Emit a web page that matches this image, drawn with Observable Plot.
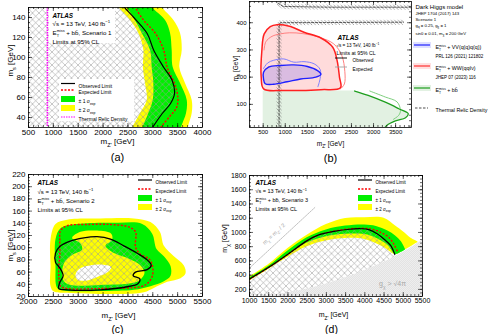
<!DOCTYPE html>
<html><head><meta charset="utf-8">
<script src="https://cdn.jsdelivr.net/npm/d3@7"></script>
<script src="https://cdn.jsdelivr.net/npm/@observablehq/plot@0.6"></script>
<style>
body{margin:0;background:#fff;}
#fig{position:relative;width:500px;height:334px;overflow:hidden;background:#fff;}
#fig svg{position:absolute;left:0;top:0;}
</style></head><body><div id="fig"></div>
<script>
// ---------------- DATA ----------------
// Panel (a): bands sampled at common m_s levels
const aYLevels = [155,150,137,124,107,90,74,57,44,32,27];
const aYellowL = [2250,2317,2552,2719,2820,2810,2854,2887,2753,2619,2560];
const aGreenL  = [2440,2485,2650,2787,2954,2988,3021,3008,2920,2820,2780];
const aGreenR  = [2940,2988,3256,3357,3390,3410,3558,3693,3679,3592,3560];
const aYellowR = [3150,3190,3424,3558,3592,3544,3658,3793,3793,3725,3700];
const aObs = [[2380,155],[2417,151],[2618,140],[2887,124],[3021,107],[3222,90],[3390,77],[3437,64],[3357,54],[3190,44],[3021,32],[2960,27]];
const aExp = [[2620,155],[2652,150],[2820,137],[3055,124],[3222,107],[3290,90],[3437,74],[3505,60],[3478,50],[3323,40],[3190,32],[3120,27]];
const aRelicX = [880];
const aXTicks = [500,1000,1500,2000,2500,3000,3500,4000];
const aYTicks = [40,60,80,100,120,140];

// Panel (b)
const bRedObs = [[510,157],[455,200],[470,298],[523,359],[661,386],[814,393],[1119,386],[1425,365],[1808,344],[2076,310],[2175,261],[2228,200],[2251,161],[1808,154],[966,151]];
const bRedExp = [[520,300],[560,330],[700,350],[890,359],[1100,363],[1400,360],[1800,345],[2100,322],[2280,280],[2350,220],[2340,175],[2260,158]];
const bBlueObs = [[508,218],[622,237],[890,243],[1195,245],[1501,239],[1731,224],[1808,210],[1693,200],[1348,193],[1042,183],[737,174],[546,176],[508,193]];
const bBlueExp = [[508,232],[600,252],[737,262],[966,267],[1195,255],[1425,257],[1654,249],[1790,228],[1790,195],[1740,165]];
const bGreenObs = [[2572,149],[2879,133],[3266,108],[3572,84],[3786,66],[3725,51],[3495,39],[3304,23],[3251,13]];
const bGreenExp = [[2916,149],[3266,127],[3533,109],[3610,78],[3572,60],[3450,45]];
const bRelic1 = [[860,15],[860,385],[885,400],[3680,402]];
const bRelic2 = [[830,472],[950,460],[2000,457],[3860,457]];
const bXTicks = [500,1000,1500,2000,2500,3000,3500];
const bYTicks = [100,200,300,400];

// Panel (c)
const cYel = [[2443,70],[2443,114],[2543,139],[2778,146],[3449,148],[4120,148],[4454,142],[4642,126],[4723,103],[4924,86],[5125,71],[5159,58],[5058,50],[4790,44],[4521,34],[4320,27],[3784,24],[2778,26],[2510,28],[2443,37]];
const cGrn = [[2543,70],[2543,114],[2644,132],[2979,139],[3784,141],[4287,139],[4488,123],[4575,98],[4723,86],[4857,70],[4857,54],[4723,45],[4454,37],[4119,31],[3449,29],[2711,30],[2577,34]];
const cInner = [[2878,116],[3046,126],[3381,128],[3663,123],[3683,113],[3549,103],[3683,93],[4018,82],[4253,71],[4334,59],[4253,48],[4086,42],[3449,39],[2845,39],[2711,45],[2677,60],[2724,76],[2878,88],[3080,97],[3033,108]];
const cHole = [[2946,56],[3033,66],[3234,71],[3516,72],[3663,68],[3596,60],[3381,52],[3147,46],[2979,48]];
const cObs = [[2543,91],[2630,102],[2811,110],[3113,116],[3381,118],[3650,114],[3918,103],[4186,91],[4387,80],[4468,71],[4387,64],[4153,60],[4106,54],[4240,49],[4200,41],[3985,36],[3449,31],[2778,31],[2610,33],[2630,43],[2697,54],[2630,67],[2543,76]];
const cExp = [[2630,87],[2630,112],[2644,128],[2778,136],[3180,138],[3650,138],[4019,134],[4153,126],[4153,101],[4253,89],[4421,82],[4495,70],[4488,53],[4387,41],[4253,36],[3449,33],[2778,33],[2644,37],[2610,53],[2610,70]];
const cXTicks = [2000,2500,3000,3500,4000,4500,5000,5500];
const cYTicks = [20,40,60,80,100,120,140,160,180,200,220];

// Panel (d)
const dYelX  = [1000,1500,2000,2500,3000,3500,4000,4500,4800,5000,5200,5380];
const dYelLo = [315,480,650,800,880,915,900,790,690,740,800,860];
const dYelHi = [375,550,775,960,1110,1195,1205,1200,1090,1010,920,870];
const dGrnX  = [1000,1500,2000,2500,3000,3500,4000,4300,4600,4800,4950,5060];
const dGrnLo = [330,495,680,850,940,975,970,920,820,690,720,755];
const dGrnHi = [360,525,740,925,1035,1090,1105,1085,1020,950,870,760];
const dObs = [[1000,345],[1500,510],[2000,695],[2500,885],[2800,965],[3200,1015],[3600,1045],[3900,1052],[4100,1040],[4320,981],[4540,887],[4670,817],[4780,690]];
const dExp = [[1000,345],[1500,510],[2000,695],[2500,885],[2800,965],[3200,1018],[3600,1050],[3900,1058],[4150,1050],[4400,1004],[4620,934],[4750,840],[4850,730]];
const dGray = [[1300,100],[2000,150],[2500,205],[3000,275],[3500,365],[4000,465],[4500,580],[5000,720],[5500,890]];
const dHalf = [[1000,500],[2700,1350]];
const dXTicks = [1000,1500,2000,2500,3000,3500,4000,4500,5000,5500];
const dYTicks = [200,400,600,800,1000,1200,1400,1600,1800];

// ---------------- HELPERS ----------------
const FONT = "'Liberation Sans', Arial, Helvetica, sans-serif";
const fig = document.getElementById("fig");
const defs = d3.select(fig).append("svg").attr("width", 0).attr("height", 0).append("defs");
const xh = defs.append("pattern").attr("id", "xhatch").attr("patternUnits", "userSpaceOnUse").attr("width", 6.5).attr("height", 6.5);
xh.append("path").attr("d", "M0,0L6.5,6.5M6.5,0L0,6.5").attr("stroke", "#9a9a9a").attr("stroke-width", 0.55).attr("fill", "none");
const dh = defs.append("pattern").attr("id", "dhatch").attr("patternUnits", "userSpaceOnUse").attr("width", 3.5).attr("height", 3.5);
dh.append("path").attr("d", "M0,0L3.5,3.5M-1,2.5L1,4.5M2.5,-1L4.5,1").attr("stroke", "#555").attr("stroke-width", 0.5).attr("fill", "none");
const gh = defs.append("pattern").attr("id", "ghatch").attr("patternUnits", "userSpaceOnUse").attr("width", 2).attr("height", 2);
gh.append("path").attr("d", "M0,2L2,0M-1,1L1,-1M1,3L3,1").attr("stroke", "#d2d2d2").attr("stroke-width", 0.4).attr("fill", "none");

const X = d => d[0], Y = d => d[1];

function panel(P, cfg) {
  const fw = P.fr - P.fl, fh = P.fb - P.ft;
  const T = (s, ax, ay, o = {}) => Plot.text([s], {text: d => d, frameAnchor: "top-left", dx: ax - P.fl, dy: ay - P.ft, textAnchor: "start", fill: "black", fontSize: 6, ...o});
  const tk = {stroke: "black", strokeWidth: 0.6};
  const ticks = [
    Plot.tickX(cfg.xMinor, {x: d => d, insetTop: fh - 2, ...tk}),
    Plot.tickX(cfg.xMinor, {x: d => d, insetBottom: fh - 2, ...tk}),
    Plot.tickX(cfg.xTicks, {x: d => d, insetTop: fh - 4, ...tk}),
    Plot.tickX(cfg.xTicks, {x: d => d, insetBottom: fh - 4, ...tk}),
    Plot.tickY(cfg.yMinor, {y: d => d, insetRight: fw - 2, ...tk}),
    Plot.tickY(cfg.yMinor, {y: d => d, insetLeft: fw - 2, ...tk}),
    Plot.tickY(cfg.yTicks, {y: d => d, insetRight: fw - 4, ...tk}),
    Plot.tickY(cfg.yTicks, {y: d => d, insetLeft: fw - 4, ...tk})
  ];
  const svg = Plot.plot({
    width: 500, height: 334,
    marginLeft: P.fl, marginRight: 500 - P.fr, marginTop: P.ft, marginBottom: 334 - P.fb,
    x: {domain: cfg.xDomain}, y: {domain: cfg.yDomain},
    style: {fontFamily: FONT, background: "transparent", position: "absolute", left: "0px", top: "0px", overflow: "visible"},
    marks: [
      ...cfg.marks(T),
      Plot.frame({stroke: "black", strokeWidth: 0.8}),
      ...ticks,
      Plot.axisX({ticks: cfg.xTicks, anchor: "bottom", tickSize: 0, tickPadding: 2, fontSize: cfg.tickFont, label: null, tickFormat: d => String(d)}),
      Plot.axisY({ticks: cfg.yTicks, anchor: "left", tickSize: 0, tickPadding: 3, fontSize: cfg.tickFont, label: null, tickFormat: d => String(d)}),
      ...cfg.text(T)
    ]
  });
  fig.appendChild(svg);
  return svg;
}

// pixel-space legend swatches / boxes
function deco(items) {
  return () => {
    const g = d3.create("svg:g");
    for (const it of items) {
      if (it.box) g.append("rect").attr("x", it.box[0]).attr("y", it.box[1]).attr("width", it.box[2]).attr("height", it.box[3]).attr("fill", it.fill).attr("stroke", it.stroke || "none").attr("stroke-width", 0.5);
      if (it.line) g.append("line").attr("x1", it.line[0]).attr("y1", it.line[1]).attr("x2", it.line[2]).attr("y2", it.line[1]).attr("stroke", it.stroke).attr("stroke-width", it.width || 1.2).attr("stroke-dasharray", it.dash || null);
    }
    return g.node();
  };
}

function rich(svg) {
  d3.select(svg).selectAll("text").each(function() {
    const s = this.textContent;
    if (!/ETMISS|[_^]\{/.test(s)) return;
    const fs = parseFloat(getComputedStyle(this).fontSize) || 6;
    const el = d3.select(this); el.text(null);
    let cur = 0;
    const add = (t, off, scale, dx) => {
      const ts = el.append("tspan").text(t);
      if (off !== cur) ts.attr("dy", off - cur);
      cur = off;
      if (scale !== 1) ts.attr("font-size", fs * scale);
      if (dx) ts.attr("dx", dx);
    };
    const re = /ETMISS|_\{([^}]*)\}|\^\{([^}]*)\}/g;
    let last = 0, m;
    while ((m = re.exec(s))) {
      if (m.index > last) add(s.slice(last, m.index), 0, 1);
      if (m[0] === "ETMISS") { add("E", 0, 1); add("T", fs * 0.3, 0.62); add("miss", -fs * 0.4, 0.62, -fs * 0.62 * 0.6); }
      else if (m[1] !== undefined) add(m[1], fs * 0.3, 0.7);
      else add(m[2], -fs * 0.4, 0.7);
      last = re.lastIndex;
    }
    if (last < s.length) add(s.slice(last), 0, 1);
  });
}

const YEL = "#ffff00", GRN = "#00f000", RED = "#ff0000";

// ---------------- PANEL A ----------------
const aBand = aYLevels.map((y, i) => ({y, yl: aYellowL[i], gl: aGreenL[i], gr: aGreenR[i], yr: aYellowR[i]}));
const svgA = panel({fl: 28, fr: 202, ft: 7, fb: 127}, {
  xDomain: [500, 4000], yDomain: [30, 150], tickFont: 8,
  xTicks: aXTicks, yTicks: aYTicks, xMinor: d3.range(500, 4001, 100), yMinor: d3.range(30, 151, 5),
  marks: T => [
    Plot.areaX(aBand, {y: "y", x1: "yl", x2: "yr", fill: YEL, curve: "catmull-rom", clip: true}),
    Plot.areaX(aBand, {y: "y", x1: "gl", x2: "gr", fill: GRN, curve: "catmull-rom", clip: true}),
    Plot.areaX(aObs, {y: Y, x1: 500, x2: X, fill: "url(#xhatch)", curve: "catmull-rom", clip: true}),
    deco([{box: [49, 7, 66, 36], fill: "white"}, {box: [59, 79, 75, 42], fill: "white"}]),
    Plot.ruleX(aRelicX, {stroke: "#ff00ff", strokeWidth: 1.6, strokeDasharray: "1.5,1"}),
    Plot.line(aExp, {x: X, y: Y, stroke: RED, strokeWidth: 1.4, strokeDasharray: "2,1.6", strokeLinecap: "butt", curve: "catmull-rom", clip: true}),
    Plot.line(aObs, {x: X, y: Y, stroke: "black", strokeWidth: 1.2, curve: "catmull-rom", clip: true}),
    deco([
      {line: [61, 83.5, 75], stroke: "black"},
      {line: [61, 90, 75], stroke: RED, dash: "2,1.5", width: 1.4},
      {box: [61, 96, 14, 6], fill: GRN},
      {box: [61, 105, 14, 6], fill: YEL},
      {line: [61, 117, 75], stroke: "#ff00ff", dash: "1.5,1", width: 1.2}
    ])
  ],
  text: T => [
    T("ATLAS", 52, 13, {fontWeight: "bold", fontStyle: "italic", fontSize: 6.3}),
    T("√s = 13 TeV, 140 fb^{−1}", 52, 21, {fontSize: 6.2}),
    T("ETMISS + bb̄, Scenario 1", 52, 30, {fontSize: 6.2}),
    T("Limits at 95% CL", 52, 39, {fontSize: 6.2}),
    T("Observed Limit", 78, 83.5, {fontSize: 5}),
    T("Expected Limit", 78, 90, {fontSize: 5}),
    T("± 1 σ_{exp}", 78, 99, {fontSize: 5}),
    T("± 2 σ_{exp}", 78, 108, {fontSize: 5}),
    T("Thermal Relic Density", 78, 117, {fontSize: 5}),
    T("m_{Z'} [GeV]", 117, 138, {textAnchor: "middle", fontSize: 8}),
    T("m_{s} [GeV]", 7, 60, {textAnchor: "middle", rotate: -90, fontSize: 8}),
    T("(a)", 117, 153, {textAnchor: "middle", fontSize: 11})
  ]
});

// ---------------- PANEL B ----------------
const svgB = panel({fl: 249, fr: 411, ft: 1, fb: 127}, {
  xDomain: [190, 3860], yDomain: [15, 478], tickFont: 6,
  xTicks: bXTicks, yTicks: bYTicks, xMinor: d3.range(200, 3801, 100), yMinor: d3.range(20, 478, 20),
  marks: T => [
    Plot.areaX(bGreenObs, {y: Y, x1: 500, x2: X, fill: "#e2f1e2", curve: "catmull-rom", clip: true}),
    Plot.line(bRedObs, {x: X, y: Y, fill: "#ff0000", fillOpacity: 0.14, stroke: "none", curve: "catmull-rom-closed"}),
    Plot.line(bBlueObs, {x: X, y: Y, fill: "#3030ff", fillOpacity: 0.18, stroke: "none", curve: "catmull-rom-closed"}),
    Plot.line(bRelic1, {x: X, y: Y, stroke: "url(#dhatch)", strokeWidth: 5, strokeLinecap: "butt", clip: true}),
    Plot.line(bRelic2, {x: X, y: Y, stroke: "url(#dhatch)", strokeWidth: 5, strokeLinecap: "butt", clip: true}),
    Plot.line(bRelic1, {x: X, y: Y, stroke: "black", strokeWidth: 0.6, strokeDasharray: "2.5,1.5", clip: true}),
    Plot.line(bRelic2, {x: X, y: Y, stroke: "black", strokeWidth: 0.6, strokeDasharray: "2.5,1.5", clip: true}),
    Plot.line(bGreenExp, {x: X, y: Y, stroke: "#7fd07f", strokeWidth: 1, curve: "catmull-rom"}),
    Plot.line(bGreenObs, {x: X, y: Y, stroke: "#1e9e1e", strokeWidth: 1.3, curve: "catmull-rom", clip: true}),
    Plot.line(bRedExp, {x: X, y: Y, stroke: "#ff8080", strokeWidth: 1, curve: "catmull-rom"}),
    Plot.line(bRedObs, {x: X, y: Y, stroke: "#ff2020", strokeWidth: 1.5, curve: "catmull-rom-closed"}),
    Plot.line(bBlueExp, {x: X, y: Y, stroke: "#8080ff", strokeWidth: 1, curve: "catmull-rom"}),
    Plot.line(bBlueObs, {x: X, y: Y, stroke: "#2020ff", strokeWidth: 1.4, curve: "catmull-rom-closed"}),
    deco([
      {line: [335, 58, 347], stroke: "black", width: 0.9},
      {line: [335, 67, 347], stroke: "#a0a0a0", width: 0.9},
      {box: [413, 42, 18, 6], fill: "#dfe0ff"}, {line: [414, 45, 430], stroke: "#2020ff"},
      {box: [413, 63, 18, 6], fill: "#ffe0e0"}, {line: [414, 66, 430], stroke: "#ff3030"},
      {box: [413, 85, 18, 6], fill: "#e2f1e2"}, {line: [414, 88, 430], stroke: "#1e9e1e"},
      {line: [415, 108, 428], stroke: "black", width: 0.7, dash: "2.5,1.5"}
    ])
  ],
  text: T => [
    T("ATLAS", 337, 35, {fontWeight: "bold", fontStyle: "italic", fontSize: 6.5}),
    T("√s = 13 TeV, 140 fb^{−1}", 336, 43, {fontSize: 4.6}),
    T("Limits at 95% CL", 336, 51, {fontSize: 5.2}),
    T("Observed", 352, 58, {fontSize: 4.8}),
    T("Expected", 352, 67, {fontSize: 4.8}),
    T("Dark Higgs model", 415, 4, {fontSize: 6}),
    T("JHEP 1704 (2017) 143", 415, 11, {fontSize: 4.3}),
    T("Scenario 1", 415, 17, {fontSize: 4.3}),
    T("g_{q} = 0.25, g_{χ} = 1", 415, 23.5, {fontSize: 4.3}),
    T("sinθ = 0.01, m_{χ} = 200 GeV", 415, 31, {fontSize: 4.3}),
    T("ETMISS + VV(q(q)q(q))", 435, 45, {fontSize: 5.3}),
    T("PRL 126 (2021) 121802", 435, 54, {fontSize: 4.5}),
    T("ETMISS + WW(qqℓν)", 435, 66, {fontSize: 5.3}),
    T("JHEP 07 (2023) 116", 435, 75, {fontSize: 4.5}),
    T("ETMISS + bb̄", 435, 88, {fontSize: 5.3}),
    T("Thermal Relic Density", 435, 108, {fontSize: 5.3}),
    T("m_{Z'} [GeV]", 330, 141, {textAnchor: "middle", fontSize: 6.5}),
    T("m_{s} [GeV]", 233, 68, {textAnchor: "middle", rotate: -90, fontSize: 6.5}),
    T("(b)", 330, 154, {textAnchor: "middle", fontSize: 11})
  ]
});

// ---------------- PANEL C ----------------
const svgC = panel({fl: 28, fr: 202, ft: 174, fb: 296}, {
  xDomain: [2000, 5500], yDomain: [20, 220], tickFont: 8,
  xTicks: cXTicks, yTicks: cYTicks, xMinor: d3.range(2000, 5501, 100), yMinor: d3.range(20, 221, 5),
  marks: T => [
    Plot.line(cYel, {x: X, y: Y, fill: YEL, stroke: "none", curve: "catmull-rom-closed"}),
    Plot.line(cGrn, {x: X, y: Y, fill: GRN, stroke: "none", curve: "catmull-rom-closed"}),
    Plot.line(cInner, {x: X, y: Y, fill: YEL, stroke: "none", curve: "catmull-rom-closed"}),
    Plot.line(cHole, {x: X, y: Y, fill: "white", stroke: "none", curve: "catmull-rom-closed"}),
    Plot.line(cObs, {x: X, y: Y, fill: "url(#xhatch)", stroke: "none", curve: "catmull-rom-closed"}),
    Plot.line(cExp, {x: X, y: Y, stroke: RED, strokeWidth: 1.4, strokeDasharray: "2,1.6", strokeLinecap: "butt", curve: "catmull-rom-closed"}),
    Plot.line(cObs, {x: X, y: Y, stroke: "black", strokeWidth: 1.3, curve: "catmull-rom-closed"}),
    deco([
      {line: [138, 180, 152], stroke: "black"},
      {line: [138, 189, 152], stroke: RED, dash: "2,1.5", width: 1.4},
      {box: [138, 195, 14, 6], fill: GRN},
      {box: [138, 204, 14, 6], fill: YEL}
    ])
  ],
  text: T => [
    T("ATLAS", 37, 180, {fontWeight: "bold", fontStyle: "italic", fontSize: 6.3}),
    T("√s = 13 TeV, 140 fb^{−1}", 37, 189, {fontSize: 6}),
    T("ETMISS + bb̄, Scenario 2", 37, 198, {fontSize: 6}),
    T("Limits at 95% CL", 37, 207, {fontSize: 6}),
    T("Observed Limit", 155, 180, {fontSize: 4.7}),
    T("Expected Limit", 155, 189, {fontSize: 4.7}),
    T("± 1 σ_{exp}", 155, 198, {fontSize: 4.7}),
    T("± 2 σ_{exp}", 155, 207, {fontSize: 4.7}),
    T("m_{Z'} [GeV]", 118, 312, {textAnchor: "middle", fontSize: 8}),
    T("m_{s} [GeV]", 7, 245, {textAnchor: "middle", rotate: -90, fontSize: 8}),
    T("(c)", 117, 325.5, {textAnchor: "middle", fontSize: 10.5})
  ]
});

// ---------------- PANEL D ----------------
const dYel = dYelX.map((x, i) => ({x, lo: dYelLo[i], hi: dYelHi[i]}));
const dGrn = dGrnX.map((x, i) => ({x, lo: dGrnLo[i], hi: dGrnHi[i]}));
const svgD = panel({fl: 249, fr: 422, ft: 175, fb: 296}, {
  xDomain: [1000, 5500], yDomain: [100, 1800], tickFont: 7,
  xTicks: dXTicks, yTicks: dYTicks, xMinor: d3.range(1000, 5501, 100), yMinor: d3.range(100, 1801, 50),
  marks: T => [
    Plot.areaY(dYel, {x: "x", y1: "lo", y2: "hi", fill: YEL, curve: "catmull-rom", clip: true}),
    Plot.areaY(dGrn, {x: "x", y1: "lo", y2: "hi", fill: GRN, curve: "catmull-rom", clip: true}),
    Plot.areaY(dObs, {x: X, y1: 100, y2: Y, fill: "url(#xhatch)", curve: "catmull-rom", clip: true}),
    Plot.areaY(dGray, {x: X, y1: 100, y2: Y, fill: "#eeeeee", curve: "catmull-rom", clip: true}),
    Plot.areaY(dGray, {x: X, y1: 100, y2: Y, fill: "url(#ghatch)", curve: "catmull-rom", clip: true}),
    Plot.line(dHalf, {x: X, y: Y, stroke: "#b0b0b0", strokeWidth: 0.8, strokeDasharray: "1.5,1"}),
    Plot.line(dExp, {x: X, y: Y, stroke: RED, strokeWidth: 1.4, strokeDasharray: "2,1.6", strokeLinecap: "butt", curve: "catmull-rom"}),
    Plot.line(dObs, {x: X, y: Y, stroke: "black", strokeWidth: 1.2, curve: "catmull-rom"}),
    deco([
      {line: [358, 180, 372], stroke: "black"},
      {line: [358, 189, 372], stroke: RED, dash: "2,1.5", width: 1.4},
      {box: [358, 195, 14, 6], fill: GRN},
      {box: [358, 204, 14, 6], fill: YEL}
    ])
  ],
  text: T => [
    T("ATLAS", 255, 180, {fontWeight: "bold", fontStyle: "italic", fontSize: 6.3}),
    T("√s = 13 TeV, 140 fb^{−1}", 255, 189, {fontSize: 5.5}),
    T("ETMISS + bb̄, Scenario 3", 255, 198, {fontSize: 5.5}),
    T("Limits at 95% CL", 255, 207, {fontSize: 5.5}),
    T("Observed Limit", 375, 180, {fontSize: 4.5}),
    T("Expected Limit", 375, 189, {fontSize: 4.5}),
    T("± 1 σ_{exp}", 375, 198, {fontSize: 4.5}),
    T("± 2 σ_{exp}", 375, 207, {fontSize: 4.5}),
    T("m_{χ} = m_{Z'} / 2", 272, 232, {textAnchor: "middle", rotate: -43, fontSize: 5.5, fill: "#a0a0a0"}),
    T("g_{χ} > √4π", 392, 281, {textAnchor: "middle", fontSize: 7, fill: "#a8a8a8"}),
    T("m_{Z'} [GeV]", 333, 312, {textAnchor: "middle", fontSize: 7}),
    T("m_{χ} [GeV]", 222, 238, {textAnchor: "middle", rotate: -90, fontSize: 7}),
    T("(d)", 331, 325.5, {textAnchor: "middle", fontSize: 10.5})
  ]
});

[svgA, svgB, svgC, svgD].forEach(rich);
</script></body></html>
